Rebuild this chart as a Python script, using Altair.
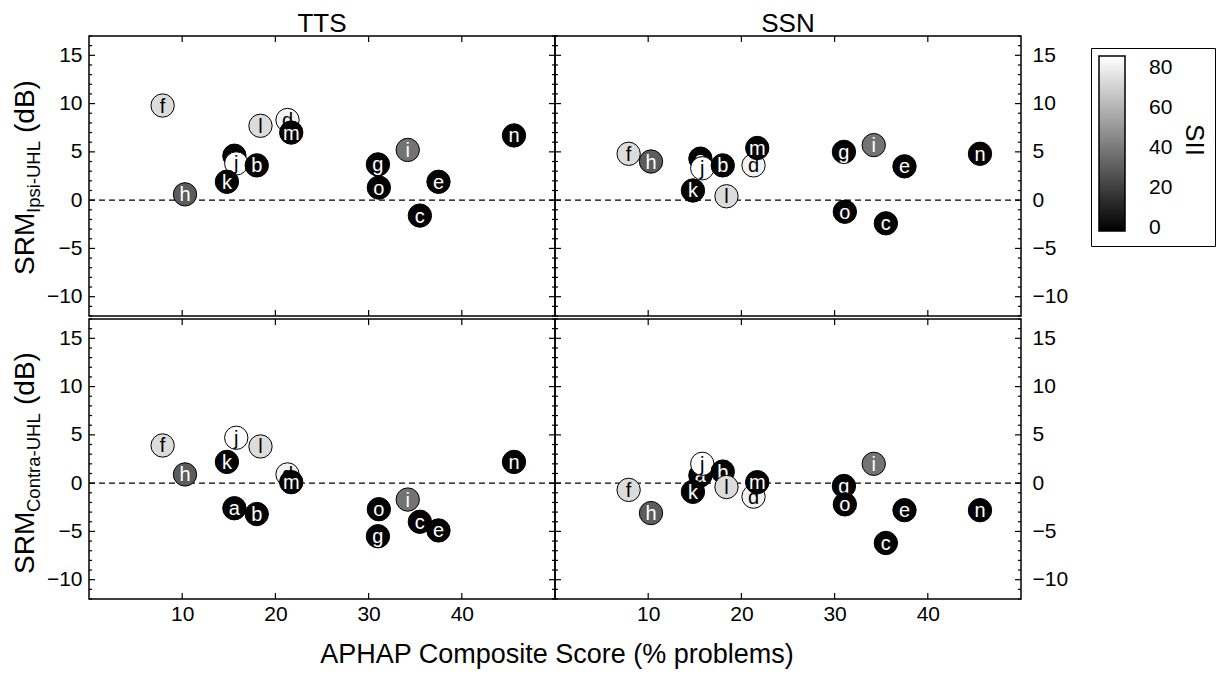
import altair as alt
import pandas as pd

# ---------------- data ----------------
subjects = ["a", "b", "c", "d", "e", "f", "g", "h", "i", "j", "k", "l", "m", "n", "o"]
aphap = [15.6, 18.0, 35.5, 21.3, 37.5, 7.9, 31.0, 10.3, 34.2, 15.8, 14.8, 18.4, 21.7, 45.6, 31.1]
sii = [0, 0, 0, 82, 0, 74, 0, 30, 38, 86, 0, 74, 0, 0, 0]

srm_tts_ipsi = [4.6, 3.6, -1.6, 8.3, 1.9, 9.8, 3.7, 0.6, 5.2, 3.8, 1.9, 7.7, 7.0, 6.7, 1.3]
srm_ssn_ipsi = [4.3, 3.6, -2.4, 3.6, 3.5, 4.8, 5.0, 4.0, 5.7, 3.3, 1.0, 0.4, 5.4, 4.8, -1.2]
srm_tts_contra = [-2.6, -3.2, -4.0, 0.9, -4.9, 3.9, -5.5, 0.9, -1.7, 4.7, 2.2, 3.8, 0.1, 2.2, -2.7]
srm_ssn_contra = [0.8, 1.2, -6.2, -1.4, -2.8, -0.7, -0.3, -3.1, 2.0, 2.0, -0.9, -0.4, 0.1, -2.8, -2.2]

panel_titles = ["TTS", "SSN"]
y_title_main = "SRM"
y_title_subs = ["Ipsi-UHL", "Contra-UHL"]
y_title_unit = "(dB)"
x_title = "APHAP Composite Score (% problems)"
legend_title = "SII"

x_tick_values = [10, 20, 30, 40]
y_tick_values = [-10, -5, 0, 5, 10, 15]
y_minor_values = [-12, -11, -9, -8, -7, -6, -4, -3, -2, -1, 1, 2, 3, 4, 6, 7, 8, 9, 11, 12, 13, 14, 16, 17]
sii_tick_values = [0, 20, 40, 60, 80]
zero_line = [0]

# drawing order of the markers (later ones lie on top)
draw_order = ["a", "j", "b", "k", "c", "d", "e", "f", "g", "h", "i", "l", "m", "n", "o"]

# ---------------- styling ----------------
FONT = "Liberation Sans"
W, H = 466, 280
XDOM = [0, 50]
YDOM = [-12, 17]
LAB = 21

xs = alt.Scale(domain=XDOM, nice=False, zero=False)
ys = alt.Scale(domain=YDOM, nice=False, zero=False)
cs = alt.Scale(domain=[-1.5, 86], range=["black", "white"], interpolate="rgb")

legend = alt.Legend(
    title=legend_title, orient="none", legendX=1002, legendY=12, direction="vertical",
    gradientLength=175, gradientThickness=26, gradientStrokeColor="black", gradientStrokeWidth=1.5,
    values=sii_tick_values, labelFontSize=LAB, labelFont=FONT, labelOffset=24, labelColor="black",
    titleOrient="right", titleFontSize=26, titleFont=FONT, titleFontWeight="normal", titleColor="black",
    titlePadding=9, strokeColor="black", fillColor="white", padding=8,
)


def text_layer(txt, size, x, y, angle=0, align="left"):
    return alt.Chart(pd.DataFrame({"t": [txt]})).mark_text(
        fontSize=size, font=FONT, angle=angle, align=align, baseline="alphabetic", color="black"
    ).encode(text="t:N", x=alt.value(x), y=alt.value(y))


def panel(values, col, row):
    df = pd.DataFrame({"subject": subjects, "aphap": aphap, "sii": sii, "srm": values})
    if row == 1:
        xaxis = alt.Axis(values=x_tick_values, ticks=False, domain=False, grid=False,
                         labelFontSize=LAB, labelFont=FONT, labelColor="black", labelPadding=4,
                         title=None)
    else:
        xaxis = None
    yaxis = alt.Axis(orient="left" if col == 0 else "right", values=y_tick_values, ticks=False,
                     domain=False, grid=False, labelFontSize=LAB, labelFont=FONT, labelColor="black",
                     labelPadding=7 if col == 0 else 11, title=None)

    X = alt.X("aphap:Q", scale=xs, axis=xaxis)
    Y = alt.Y("srm:Q", scale=ys, axis=yaxis)

    layers = []
    # zero line
    layers.append(alt.Chart(pd.DataFrame({"srm": zero_line})).mark_rule(
        color="black", strokeWidth=1.3, strokeDash=[6, 4]).encode(y=Y))

    # inward ticks
    for side in ("left", "right"):
        for vals, ln in ((y_tick_values, 6), (y_minor_values, 3)):
            if side == "left":
                xx, xx2 = alt.value(0), alt.value(ln)
            else:
                xx, xx2 = alt.value(W - ln), alt.value(W)
            layers.append(alt.Chart(pd.DataFrame({"srm": vals})).mark_rule(
                color="black", strokeWidth=1.2).encode(y=Y, x=xx, x2=xx2))
    for side in ("top", "bottom"):
        if side == "top":
            yy, yy2 = alt.value(0), alt.value(6)
        else:
            yy, yy2 = alt.value(H - 6), alt.value(H)
        layers.append(alt.Chart(pd.DataFrame({"aphap": x_tick_values})).mark_rule(
            color="black", strokeWidth=1.2).encode(x=X, y=yy, y2=yy2))

    # markers, one subject at a time so that later circles cover earlier letters
    base = alt.Chart(df)
    for s in draw_order:
        sel = base.transform_filter(alt.datum.subject == s)
        layers.append(sel.mark_circle(size=545, opacity=1, stroke="black", strokeWidth=1).encode(
            x=X, y=Y, color=alt.Color("sii:Q", scale=cs, legend=legend)))
        layers.append(sel.mark_text(fontSize=20, font=FONT, baseline="middle", dy=1).encode(
            x=X, y=Y, text="subject:N",
            color=alt.condition(alt.datum.sii > 50, alt.value("black"), alt.value("white"))))

    if col == 0:
        if row == 0:
            y_main, y_sub, y_unit = 239, 177, 97
        else:
            y_main, y_sub, y_unit = 255, 193, 86
        layers.append(text_layer(y_title_main, 28, -55.5, y_main, angle=270))
        layers.append(text_layer(y_title_subs[row], 18.5, -49.5, y_sub, angle=270))
        layers.append(text_layer(y_title_unit, 28, -55.5, y_unit, angle=270))
    if row == 0:
        layers.append(text_layer(panel_titles[col], 26, W / 2, -4.2, align="center"))
    if row == 1 and col == 0:
        layers.append(text_layer(x_title, 27, 468, H + 64, align="center"))

    return alt.layer(*layers).properties(width=W, height=H)


chart = alt.concat(
    panel(srm_tts_ipsi, 0, 0), panel(srm_ssn_ipsi, 1, 0),
    panel(srm_tts_contra, 0, 1), panel(srm_ssn_contra, 1, 1),
    columns=2, spacing={"row": 3, "column": 0}, bounds="flush",
).properties(
    autosize=alt.AutoSizeParams(type="none"),
    padding={"left": 81, "top": 28, "right": 1128, "bottom": 635},
).configure_view(stroke="black", strokeWidth=1.5)

chart.save("out.html", embed_options={"renderer": "svg", "actions": False})
